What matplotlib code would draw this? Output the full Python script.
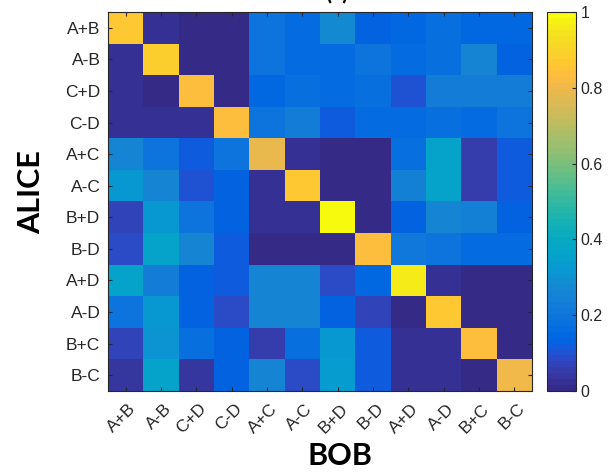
import numpy as np
import matplotlib
matplotlib.use('Agg')
import matplotlib.pyplot as plt
import matplotlib.transforms as mtransforms
from matplotlib.colors import ListedColormap

plt.rcParams['font.family'] = ['Liberation Sans', 'DejaVu Sans']

# Подписи осей
labels = ['A+B', 'A-B', 'C+D', 'C-D', 'A+C', 'A-C', 'B+D', 'B-D', 'A+D', 'A-D', 'B+C', 'B-C']

# Значения матрицы (строки - ALICE, столбцы - BOB)
row_ab = [0.87, 0.03, 0.01, 0.01, 0.20, 0.16, 0.27, 0.13, 0.15, 0.18, 0.15, 0.15]
row_amb = [0.02, 0.88, 0.01, 0.01, 0.20, 0.16, 0.17, 0.19, 0.16, 0.18, 0.26, 0.14]
row_cd = [0.03, 0.01, 0.83, 0.01, 0.15, 0.18, 0.16, 0.18, 0.10, 0.22, 0.22, 0.22]
row_cmd = [0.03, 0.03, 0.03, 0.83, 0.20, 0.22, 0.11, 0.16, 0.16, 0.18, 0.16, 0.20]
row_ac = [0.26, 0.19, 0.11, 0.19, 0.79, 0.03, 0.01, 0.01, 0.18, 0.37, 0.06, 0.11]
row_amc = [0.32, 0.25, 0.10, 0.13, 0.02, 0.87, 0.01, 0.01, 0.24, 0.37, 0.05, 0.11]
row_bd = [0.07, 0.32, 0.19, 0.13, 0.03, 0.03, 1.00, 0.01, 0.13, 0.25, 0.24, 0.13]
row_bmd = [0.09, 0.37, 0.25, 0.11, 0.00, 0.00, 0.00, 0.83, 0.21, 0.19, 0.17, 0.16]
row_ad = [0.36, 0.22, 0.13, 0.11, 0.26, 0.26, 0.08, 0.15, 0.96, 0.03, 0.00, 0.00]
row_amd = [0.19, 0.32, 0.13, 0.08, 0.26, 0.26, 0.13, 0.07, 0.01, 0.87, 0.00, 0.00]
row_bc = [0.07, 0.30, 0.18, 0.13, 0.06, 0.18, 0.32, 0.11, 0.02, 0.02, 0.84, 0.00]
row_bmc = [0.04, 0.37, 0.04, 0.13, 0.26, 0.09, 0.34, 0.11, 0.02, 0.02, 0.01, 0.80]

data = np.array([row_ab, row_amb, row_cd, row_cmd, row_ac, row_amc,
                 row_bd, row_bmd, row_ad, row_amd, row_bc, row_bmc])

# Палитра parula (64 цвета)
parula = [
    [0.2081, 0.1663, 0.5292], [0.2116, 0.1898, 0.5777], [0.2123, 0.2138, 0.6270],
    [0.2081, 0.2386, 0.6771], [0.1959, 0.2645, 0.7279], [0.1707, 0.2919, 0.7792],
    [0.1253, 0.3242, 0.8303], [0.0591, 0.3598, 0.8683], [0.0117, 0.3875, 0.8820],
    [0.0060, 0.4086, 0.8828], [0.0165, 0.4266, 0.8786], [0.0329, 0.4430, 0.8720],
    [0.0498, 0.4586, 0.8641], [0.0629, 0.4737, 0.8554], [0.0723, 0.4887, 0.8467],
    [0.0779, 0.5040, 0.8384], [0.0793, 0.5200, 0.8312], [0.0749, 0.5375, 0.8263],
    [0.0641, 0.5570, 0.8240], [0.0488, 0.5772, 0.8228], [0.0343, 0.5966, 0.8199],
    [0.0265, 0.6137, 0.8135], [0.0239, 0.6287, 0.8038], [0.0231, 0.6418, 0.7913],
    [0.0228, 0.6535, 0.7768], [0.0267, 0.6642, 0.7607], [0.0384, 0.6743, 0.7436],
    [0.0590, 0.6838, 0.7254], [0.0843, 0.6928, 0.7062], [0.1133, 0.7015, 0.6859],
    [0.1453, 0.7098, 0.6646], [0.1801, 0.7177, 0.6424], [0.2178, 0.7250, 0.6193],
    [0.2586, 0.7317, 0.5954], [0.3022, 0.7376, 0.5712], [0.3482, 0.7424, 0.5473],
    [0.3953, 0.7459, 0.5244], [0.4420, 0.7481, 0.5033], [0.4871, 0.7491, 0.4840],
    [0.5300, 0.7491, 0.4661], [0.5709, 0.7485, 0.4494], [0.6099, 0.7473, 0.4337],
    [0.6473, 0.7456, 0.4188], [0.6834, 0.7435, 0.4044], [0.7184, 0.7411, 0.3905],
    [0.7525, 0.7384, 0.3768], [0.7858, 0.7356, 0.3633], [0.8185, 0.7327, 0.3498],
    [0.8507, 0.7299, 0.3360], [0.8824, 0.7274, 0.3217], [0.9139, 0.7258, 0.3063],
    [0.9450, 0.7261, 0.2886], [0.9739, 0.7314, 0.2666], [0.9938, 0.7455, 0.2403],
    [0.9990, 0.7653, 0.2164], [0.9955, 0.7861, 0.1967], [0.9880, 0.8066, 0.1794],
    [0.9789, 0.8271, 0.1633], [0.9697, 0.8481, 0.1475], [0.9626, 0.8705, 0.1309],
    [0.9589, 0.8949, 0.1132], [0.9598, 0.9218, 0.0948], [0.9661, 0.9514, 0.0755],
    [0.9763, 0.9831, 0.0538],
]
cmap = ListedColormap(parula)

W, H = 614, 473
fig = plt.figure(figsize=(W / 100, H / 100), dpi=100)

# Основные оси
ax = fig.add_axes([108 / W, 1 - 391 / H, 424 / W, 379 / H])
im = ax.imshow(data, cmap=cmap, vmin=0, vmax=1, aspect='auto', interpolation='nearest')

ax.set_xticks(range(len(labels)))
ax.set_yticks(range(len(labels)))
ax.set_xticklabels(labels, rotation=45, ha='right', va='center', rotation_mode='anchor',
                   fontsize=12.5, color='#262626')
ax.set_yticklabels(labels, fontsize=12.5, color='#262626')
ax.tick_params(direction='in', length=3, width=0.8, top=True, right=True, color='#262626')
ax.tick_params(axis='x', pad=11)
ax.tick_params(axis='y', pad=5.5)
for s in ax.spines.values():
    s.set_color('#262626')
    s.set_linewidth(0.8)

# Сдвигаем подписи по X немного вправо, как в MATLAB
shift = mtransforms.ScaledTranslation(8 / 100, 0, fig.dpi_scale_trans)
for lbl in ax.get_xticklabels():
    lbl.set_transform(lbl.get_transform() + shift)

# Цветовая шкала
cax = fig.add_axes([547 / W, 1 - 391 / H, 29 / W, 379 / H])
cb = fig.colorbar(im, cax=cax)
cb.set_ticks([0, 0.2, 0.4, 0.6, 0.8, 1])
cb.set_ticklabels(['0', '0.2', '0.4', '0.6', '0.8', '1'])
cb.ax.tick_params(direction='in', length=3, width=0.8, labelsize=11.5, labelcolor='#262626', color='#262626')
cb.outline.set_edgecolor('#262626')
cb.outline.set_linewidth(0.8)

# Подписи осей
fig.text(31 / W, 1 - 192 / H, 'ALICE', rotation=90, ha='center', va='center',
         fontsize=22, fontweight='bold', family='Lato')
fig.text(340 / W, 1 - 456 / H, 'BOB', ha='center', va='center',
         fontsize=22, fontweight='bold', family='Lato')

# Обрезанный заголовок (в оригинале виден только низ скобок)
fig.text(337 / W, 1 + 1 / H, '(a)', ha='center', va='baseline',
         fontsize=16, fontweight='bold', family='Lato')

fig.savefig('out.png', dpi=100)
